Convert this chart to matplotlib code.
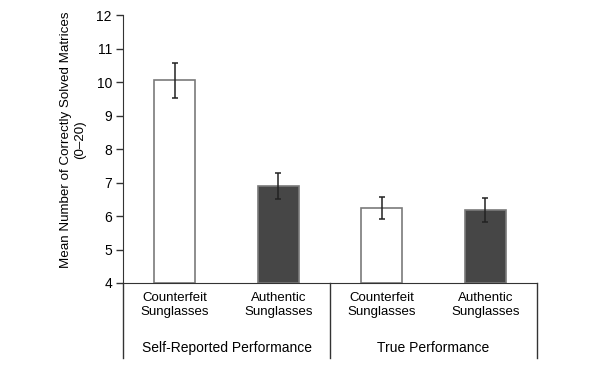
import matplotlib.pyplot as plt
import numpy as np

plt.rcParams['font.family'] = ['Liberation Sans', 'DejaVu Sans']

# data
categories = ['Counterfeit\nSunglasses', 'Authentic\nSunglasses',
              'Counterfeit\nSunglasses', 'Authentic\nSunglasses']
groups = ['Self-Reported Performance', 'True Performance']
means = [10.05, 6.90, 6.24, 6.17]
errors = [0.53, 0.39, 0.34, 0.36]
colors = ['white', '#464646', 'white', '#464646']

fig = plt.figure(figsize=(6, 3.68), dpi=100)
ax = fig.add_axes([0.205, 0.231, 0.69, 0.728])

x = np.arange(len(means))
ax.bar(x, np.array(means) - 4, bottom=4, width=0.40, color=colors,
       edgecolor='#7a7a7a', linewidth=1.2, zorder=2)
ax.errorbar(x, means, yerr=errors, fmt='none', ecolor='#222222',
            elinewidth=1.1, capsize=2.5, capthick=1.1, zorder=3)

ax.set_xlim(-0.5, 3.5)
ax.set_ylim(4, 12)
ax.set_yticks(range(4, 13))
ax.set_xticks([])
ax.tick_params(axis='y', direction='out', length=5, width=1, color='#333333',
               labelsize=10, pad=3)

for s in ['top', 'right']:
    ax.spines[s].set_visible(False)
ax.spines['left'].set_color('#333333')
ax.spines['bottom'].set_color('#333333')

ax.set_ylabel('Mean Number of Correctly Solved Matrices\n(0\u201320)', fontsize=9.6)
ax.yaxis.set_label_coords(-0.09, 0.535)

# labels and separators below the axis
trans = ax.get_xaxis_transform()
for xi, lab in zip(x, categories):
    ax.text(xi, -0.082, lab, transform=trans, ha='center', va='center',
            fontsize=9.5, linespacing=1.15)
for gi, g in enumerate(groups):
    ax.text(0.5 + 2 * gi, -0.243, g, transform=trans, ha='center', va='center',
            fontsize=10)
for xv in [-0.5, 1.5, 3.5]:
    ax.plot([xv, xv], [0, -0.28], transform=trans, color='#333333',
            linewidth=1, clip_on=False)

fig.savefig('out.png', dpi=100)
